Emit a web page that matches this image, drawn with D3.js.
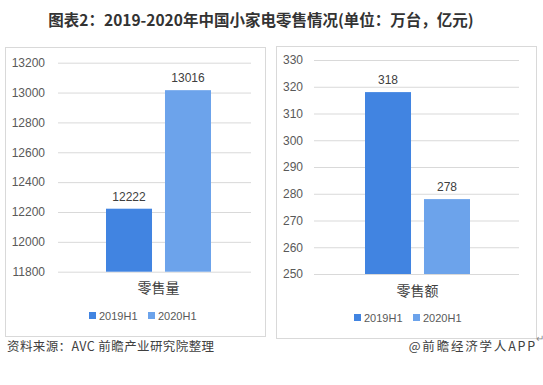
<!DOCTYPE html>
<html>
<head>
<meta charset="utf-8">
<script src="https://cdn.jsdelivr.net/npm/d3@7"></script>
<style>
  body { margin: 0; background: #fff; }
  svg { display: block; font-family: "Noto Sans CJK SC", "Noto Sans", sans-serif; }
</style>
</head>
<body>
<svg id="chart" width="543" height="385"></svg>
<script>
// Chart data
const series = ["2019H1", "2020H1"];
const colors = ["#4184e1", "#6ca3eb"];
const volumeCategory = "零售量";
const volumeValues = [12222, 13016];
const volumeTicks = [11800, 12000, 12200, 12400, 12600, 12800, 13000, 13200];
const salesCategory = "零售额";
const salesValues = [318, 278];
const salesTicks = [250, 260, 270, 280, 290, 300, 310, 320, 330];

const svg = d3.select('#chart');

// Title
svg.append('text')
    .attr('x', 261)
    .attr('y', 26)
    .attr('text-anchor', 'middle')
    .attr('font-size', '15.5px')
    .attr('font-weight', 'bold')
    .attr('fill', '#333')
    .text('图表2：2019-2020年中国小家电零售情况(单位：万台，亿元)');

function drawPanel(cfg) {
    const g = svg.append('g');

    // Panel border
    g.append('rect')
        .attr('x', cfg.box[0] + 0.5)
        .attr('y', cfg.box[1] + 0.5)
        .attr('width', cfg.box[2])
        .attr('height', cfg.box[3])
        .attr('fill', 'none')
        .attr('stroke', '#d9d9d9');

    const y = d3.scaleLinear()
        .domain(d3.extent(cfg.ticks))
        .range([cfg.yBottom, cfg.yTop]);

    const x = d3.scaleBand()
        .domain(series)
        .range([cfg.barLeft, cfg.barRight])
        .paddingInner(0.22)
        .paddingOuter(0);

    // Gridlines
    const axis = d3.axisLeft(y)
        .tickValues(cfg.ticks)
        .tickSize(-(cfg.gridRight - cfg.gridLeft))
        .tickPadding(cfg.gridLeft - cfg.labelRight)
        .tickFormat(d3.format('d'));

    const ax = g.append('g')
        .attr('transform', `translate(${cfg.gridLeft},0)`)
        .call(axis);
    ax.select('.domain').remove();
    ax.selectAll('.tick line').attr('stroke', '#d9d9d9');
    ax.selectAll('.tick text')
        .attr('font-size', '12px')
        .attr('fill', '#595959')
        .attr('font-family', '"Liberation Sans", Arial, sans-serif');

    // Bars
    g.selectAll('.bar')
        .data(cfg.values)
        .join('rect')
        .attr('class', 'bar')
        .attr('x', (d, i) => x(series[i]))
        .attr('y', d => y(d))
        .attr('width', x.bandwidth())
        .attr('height', d => cfg.yBottom - y(d))
        .attr('fill', (d, i) => colors[i]);

    // Value labels
    g.selectAll('.val')
        .data(cfg.values)
        .join('text')
        .attr('class', 'val')
        .attr('x', (d, i) => x(series[i]) + x.bandwidth() / 2)
        .attr('y', d => y(d) - 8)
        .attr('text-anchor', 'middle')
        .attr('font-size', '12px')
        .attr('fill', '#404040')
        .attr('font-family', '"Liberation Sans", Arial, sans-serif')
        .text(d => d);

    // Category label
    g.append('text')
        .attr('x', (cfg.barLeft + cfg.barRight) / 2)
        .attr('y', cfg.catY)
        .attr('text-anchor', 'middle')
        .attr('font-size', '14px')
        .attr('fill', '#404040')
        .text(cfg.category);

    // Legend
    const lg = g.selectAll('.legend')
        .data(series)
        .join('g')
        .attr('class', 'legend')
        .attr('transform', (d, i) => `translate(${cfg.legendX[i]},${cfg.legendY})`);
    lg.append('rect')
        .attr('x', 0)
        .attr('y', -4)
        .attr('width', 7)
        .attr('height', 7)
        .attr('fill', (d, i) => colors[i]);
    lg.append('text')
        .attr('x', 10)
        .attr('y', 4)
        .attr('font-size', '11px')
        .attr('fill', '#595959')
        .attr('font-family', '"Liberation Sans", Arial, sans-serif')
        .text(d => d);
}

drawPanel({
    box: [5, 47, 260, 289],
    ticks: volumeTicks,
    values: volumeValues,
    category: volumeCategory,
    yTop: 62.7, yBottom: 271.7,
    gridLeft: 58, gridRight: 251, labelRight: 45,
    barLeft: 106, barRight: 211,
    catY: 293, legendX: [89, 148], legendY: 316
});

drawPanel({
    box: [276, 46, 260, 292],
    ticks: salesTicks,
    values: salesValues,
    category: salesCategory,
    yTop: 60, yBottom: 274,
    gridLeft: 314, gridRight: 519, labelRight: 303,
    barLeft: 365, barRight: 470,
    catY: 296, legendX: [354, 413], legendY: 318
});

// return mark
svg.append('text')
    .attr('x', 536)
    .attr('y', 342)
    .attr('font-size', '10px')
    .attr('fill', '#888')
    .text('↵');

// Footer
svg.append('text')
    .attr('x', 7)
    .attr('y', 351)
    .attr('font-size', '12.5px')
    .attr('letter-spacing', '0.4px')
    .attr('fill', '#404040')
    .text('资料来源：AVC 前瞻产业研究院整理');

svg.append('text')
    .attr('x', 537)
    .attr('y', 351)
    .attr('text-anchor', 'end')
    .attr('font-size', '12.5px')
    .attr('letter-spacing', '1.8px')
    .attr('fill', '#404040')
    .text('@前瞻经济学人APP');
</script>
</body>
</html>
